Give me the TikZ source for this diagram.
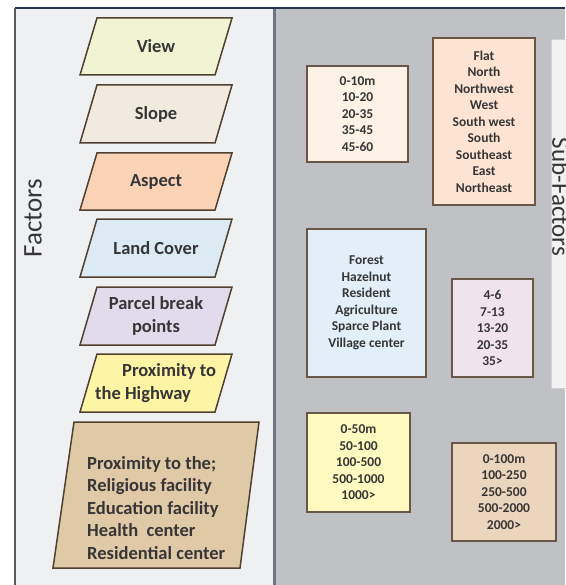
\documentclass[tikz,border=0pt]{standalone}
\usepackage{fontspec}
\setmainfont{Carlito}
\definecolor{leftbg}{HTML}{EFF0F2}
\definecolor{rightbg}{HTML}{C0C1C4}
\definecolor{topline}{HTML}{27324C}
\definecolor{divline}{HTML}{6E7484}
\definecolor{facborder}{HTML}{4F4030}
\definecolor{subborder}{HTML}{6A5646}
\definecolor{txt}{HTML}{363636}
\definecolor{cView}{HTML}{F1F4D2}
\definecolor{cSlope}{HTML}{F1EADF}
\definecolor{cAspect}{HTML}{FAD3B6}
\definecolor{cLand}{HTML}{DCEAF4}
\definecolor{cParcel}{HTML}{E2DBEC}
\definecolor{cHigh}{HTML}{FDF4A6}
\definecolor{cProx}{HTML}{E0C9A6}
\definecolor{sSlope}{HTML}{FCF2E6}
\definecolor{sAspect}{HTML}{FDE4D2}
\definecolor{sLand}{HTML}{E2EFF8}
\definecolor{sParcel}{HTML}{EFE4EE}
\definecolor{sHigh}{HTML}{FFFBC0}
\definecolor{sProx}{HTML}{EBD5BC}
\tikzset{
  facshape/.style={draw=facborder, line width=1.5pt, line join=miter},
  factext/.style={text=txt, font=\fontsize{18.5}{22.5}\selectfont\bfseries, align=center, inner sep=0pt},
  subbox/.style={draw=subborder, line width=1.3pt, text=txt,
    font=\fontsize{13.5}{16.5}\selectfont\bfseries, align=center, inner sep=0pt},
}
\begin{document}
\begin{tikzpicture}[x=1pt,y=-1pt]
\useasboundingbox (0,0) rectangle (565,585);
\fill[white] (0,0) rectangle (565,585);
% panels
\fill[leftbg] (15,9) rectangle (274,585);
\fill[rightbg] (274,9) rectangle (565,585);
\draw[topline, line width=2pt] (15,8) -- (565,8);
\draw[black!65, line width=1.6pt] (15,8) -- (15,585);
\draw[divline, line width=3pt] (274,9) -- (274,585);
% sub-factors strip
\filldraw[fill=black!5, draw=black!18, line width=0.8pt] (551,39) rectangle (572,388);
\node[rotate=-90, text=txt, font=\fontsize{25}{30}\selectfont, inner sep=0pt] (subfactors) at (561,197) {Sub-Factors};
\node[rotate=90, text=txt, font=\fontsize{27}{32}\selectfont, inner sep=0pt] (factors) at (33,218) {Factors};
% factor parallelograms
\filldraw[facshape, fill=cView] (97,18) -- (232,18) -- (215,75) -- (80,75) -- cycle;
\node[factext] (view) at (156,46) {View};
\filldraw[facshape, fill=cSlope] (97,85) -- (232,85) -- (215,143) -- (80,143) -- cycle;
\node[factext] (slope) at (156,114) {Slope};
\filldraw[facshape, fill=cAspect] (97,153) -- (232,153) -- (215,210) -- (80,210) -- cycle;
\node[factext] (aspect) at (156,182) {Aspect};
\filldraw[facshape, fill=cLand] (97,219) -- (232,219) -- (215,277) -- (80,277) -- cycle;
\node[factext] (land) at (156,248) {Land Cover};
\filldraw[facshape, fill=cParcel] (97,287) -- (232,287) -- (215,345) -- (80,345) -- cycle;
\node[factext] (parcel) at (156,316) {Parcel break\\points};
\filldraw[facshape, fill=cHigh] (97,354) -- (232,354) -- (215,412) -- (80,412) -- cycle;
\node[factext, anchor=west, align=left] (high) at (95,383) {\hspace*{27pt}Proximity to\\the Highway};
\filldraw[facshape, fill=cProx] (74,422) -- (259,422) -- (240,568) -- (53,568) -- cycle;
\node[factext, anchor=west, align=left] (prox) at (87,508) {Proximity to the;\\Religious facility\\Education facility\\Health\ \ center\\Residential center};
% sub-factor boxes
\node[subbox, fill=sSlope, minimum width=101pt, minimum height=96pt] (sslope) at (357.5,114) {0-10m\\10-20\\20-35\\35-45\\45-60};
\node[subbox, fill=sAspect, minimum width=102pt, minimum height=167pt] (saspect) at (484,121.5) {Flat\\North\\Northwest\\West\\South west\\South\\Southeast\\East\\Northeast};
\node[subbox, fill=sLand, minimum width=119pt, minimum height=148pt] (sland) at (366.5,303) {Forest\\Hazelnut\\Resident\\Agriculture\\Sparce Plant\\Village center};
\node[subbox, fill=sParcel, minimum width=81pt, minimum height=98pt] (sparcel) at (492.5,328) {4-6\\7-13\\13-20\\20-35\\35>};
\node[subbox, fill=sHigh, minimum width=103pt, minimum height=99pt] (shigh) at (358.5,462.5) {0-50m\\50-100\\100-500\\500-1000\\1000>};
\node[subbox, fill=sProx, minimum width=104pt, minimum height=98pt] (sprox) at (504,492) {0-100m\\100-250\\250-500\\500-2000\\2000>};
\end{tikzpicture}
\end{document}
